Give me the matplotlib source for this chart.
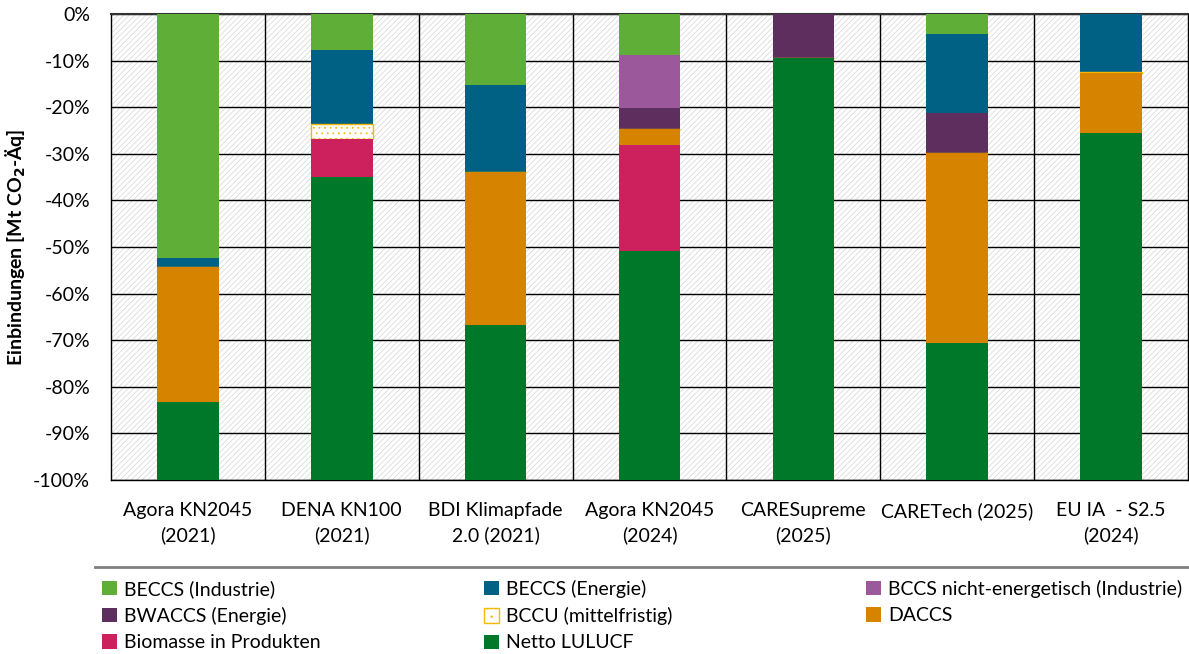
import matplotlib
matplotlib.use("Agg")
import matplotlib.pyplot as plt
from matplotlib.patches import Rectangle, Patch
from matplotlib.lines import Line2D
import numpy as np

plt.rcParams['font.family'] = ['Lato', 'DejaVu Sans']
plt.rcParams['hatch.linewidth'] = 0.5

# Szenarien (x-Achse)
szenarien = ["Agora KN2045\n(2021)", "DENA KN100\n(2021)", "BDI Klimapfade\n2.0 (2021)",
             "Agora KN2045\n(2024)", "CARESupreme\n(2025)", "CARETech (2025)\n ", "EU IA  - S2.5\n(2024)"]

# Anteile in % (von oben nach unten gestapelt)
beccs_industrie = [52.4, 7.7, 15.2, 8.8, 0.0, 4.2, 0.0]
beccs_energie   = [1.8, 16.0, 18.6, 0.0, 0.0, 17.0, 12.4]
bccs_nicht_en   = [0.0, 0.0, 0.0, 11.3, 0.0, 0.0, 0.0]
bwaccs          = [0.0, 0.0, 0.0, 4.5, 9.4, 8.6, 0.0]
bccu            = [0.0, 3.2, 0.0, 0.0, 0.0, 0.0, 0.3]
daccs           = [29.1, 0.0, 32.9, 3.5, 0.0, 40.8, 12.8]
biomasse        = [0.0, 8.0, 0.0, 22.8, 0.0, 0.0, 0.0]
netto_lulucf    = [16.7, 65.1, 33.3, 49.1, 90.6, 29.4, 74.5]

serien = [
    ("BECCS (Industrie)", beccs_industrie, "#5EAE37"),
    ("BECCS (Energie)", beccs_energie, "#006185"),
    ("BCCS nicht-energetisch (Industrie)", bccs_nicht_en, "#9B589B"),
    ("BWACCS (Energie)", bwaccs, "#5E2F5E"),
    ("BCCU (mittelfristig)", bccu, None),
    ("DACCS", daccs, "#D68400"),
    ("Biomasse in Produkten", biomasse, "#CD215E"),
    ("Netto LULUCF", netto_lulucf, "#00782A"),
]

fig = plt.figure(figsize=(11.89, 6.54), dpi=100)
ax = fig.add_axes([111 / 1189, 1 - 480 / 654, 1 - 112 / 1189, 466 / 654])

# schraffierter Hintergrund
ax.add_patch(Rectangle((0, 0), 1, 1, transform=ax.transAxes, facecolor="white",
                       edgecolor="#d4d4d4", hatch="//////", linewidth=0, zorder=0))

x = np.arange(len(szenarien))
unten = np.zeros(len(szenarien))
handles = []
for name, werte, farbe in serien:
    w = -np.array(werte)
    if farbe is None:
        ax.bar(x, w, 0.4, bottom=unten, facecolor="white", edgecolor="#F5B800",
               hatch="...", linewidth=1.0, zorder=3)
        handles.append(Patch(facecolor="white", edgecolor="#F5B800", hatch="..", label=name))
    else:
        ax.bar(x, w, 0.4, bottom=unten, color=farbe, linewidth=0, zorder=3)
        handles.append(Patch(facecolor=farbe, label=name))
    unten += w

ax.set_xlim(-0.5, len(szenarien) - 0.5)
ax.set_ylim(-100, 0)
ax.set_yticks(np.arange(-100, 1, 10))
ax.set_yticklabels([f"{v}%" for v in range(-100, 1, 10)], fontsize=14)
ax.set_xticks(x)
ax.set_xticklabels(szenarien, fontsize=14, linespacing=1.45)
ax.set_xticks(np.arange(0.5, len(szenarien) - 0.5), minor=True)
ax.tick_params(axis="x", which="both", length=0, pad=16)
ax.tick_params(axis="y", length=0, pad=15)
ax.grid(True, axis="y", color="black", linewidth=1.0, zorder=1)
ax.grid(True, axis="x", which="minor", color="black", linewidth=1.0, zorder=1)
ax.set_axisbelow(True)
for s in ax.spines.values():
    s.set_color("black")
    s.set_linewidth(1.0)
ax.spines["top"].set_linewidth(1.5)
ax.spines["top"].set_color("#333333")

ax.set_ylabel(r"Einbindungen [Mt CO$_\mathbf{2}$-Äq]", fontsize=14, fontweight="bold")
ax.yaxis.set_label_coords(-0.077, 0.5)

# Trennlinie über der Legende
fig.add_artist(Line2D([95 / 1189, 1], [1 - 567 / 654] * 2, color="#808080", linewidth=2))

# Legende in drei Spalten
spalten = [[0, 3, 6], [1, 4, 7], [2, 5]]
spalten_x = [102, 484, 866]
for idx, sx in zip(spalten, spalten_x):
    fig.legend([handles[i] for i in idx], [serien[i][0] for i in idx],
               loc="upper left", bbox_to_anchor=(sx / 1189, 1 - 580 / 654),
               frameon=False, fontsize=14, handlelength=0.75, handleheight=0.75,
               handletextpad=0.4, labelspacing=0.47, borderpad=0, borderaxespad=0)

fig.savefig("out.png", dpi=100)
